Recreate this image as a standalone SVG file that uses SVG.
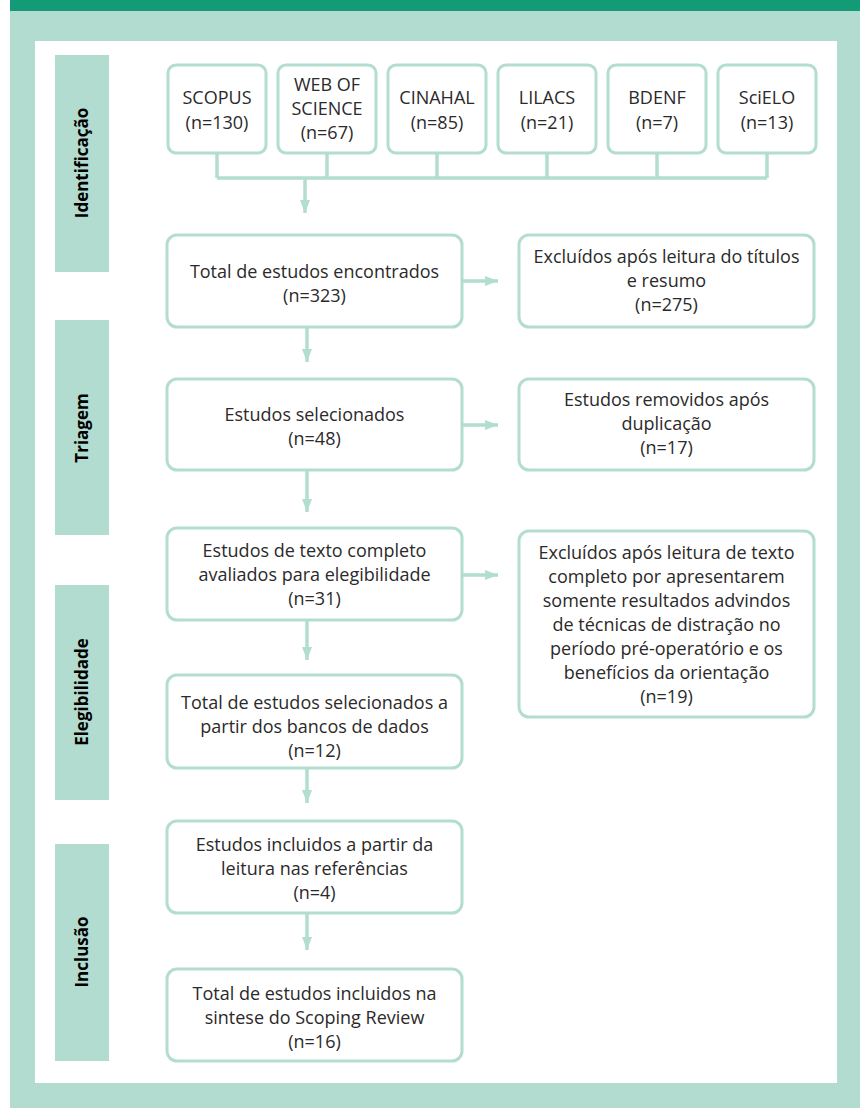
<svg xmlns="http://www.w3.org/2000/svg" width="860" height="1108" viewBox="0 0 860 1108">
<defs>
<style>
.box{fill:#fff;stroke:#b2ddd0;stroke-width:3}
.t{font-family:"Open Sans","Noto Sans",sans-serif;font-size:18px;fill:#2b2a2a;text-anchor:middle}
.side{font-family:"Open Sans","Noto Sans",sans-serif;font-size:17px;font-weight:bold;fill:#000;text-anchor:middle}
.band{fill:#b2dccf}
.ln{fill:none;stroke:#b2ddd0;stroke-width:3.5}
</style>
<marker id="ah" viewBox="0 0 13 10" refX="13" refY="5" markerWidth="3.7" markerHeight="2.85" orient="auto" markerUnits="strokeWidth">
<path d="M0,0 L13,5 L0,10 z" fill="#b2ddd0"/>
</marker>
</defs>
<rect x="0" y="0" width="860" height="1108" fill="#fff"/>
<rect x="10" y="0" width="850" height="1108" fill="#b2dccf"/>
<rect x="10" y="0" width="850" height="11" fill="#139b77"/>
<rect x="35" y="41" width="802" height="1042" fill="#fff"/>

<g id="side-labels">
<g id="lbl-identificacao"><rect class="band" x="55" y="55" width="54" height="217"/><text class="side" transform="translate(88,163) rotate(-90)">Identificação</text></g>
<g id="lbl-triagem"><rect class="band" x="55" y="320" width="54" height="215"/><text class="side" transform="translate(88,428) rotate(-90)">Triagem</text></g>
<g id="lbl-elegibilidade"><rect class="band" x="55" y="585" width="54" height="215"/><text class="side" transform="translate(88,692) rotate(-90)">Elegibilidade</text></g>
<g id="lbl-inclusao"><rect class="band" x="55" y="844" width="54" height="217"/><text class="side" transform="translate(88,952) rotate(-90)">Inclusão</text></g>
</g>

<g id="connectors">
<path class="ln" d="M217,153 V178 M327,153 V178 M437,153 V178 M547,153 V178 M657,153 V178 M767,153 V178 M217,178 H767"/>
<line class="ln" x1="305" y1="178" x2="305" y2="213" marker-end="url(#ah)"/>
<line class="ln" x1="307" y1="327" x2="307" y2="362" marker-end="url(#ah)"/>
<line class="ln" x1="307" y1="470" x2="307" y2="512" marker-end="url(#ah)"/>
<line class="ln" x1="307" y1="620" x2="307" y2="660" marker-end="url(#ah)"/>
<line class="ln" x1="307" y1="768" x2="307" y2="803" marker-end="url(#ah)"/>
<line class="ln" x1="307" y1="913" x2="307" y2="950" marker-end="url(#ah)"/>
<line class="ln" x1="462" y1="281" x2="498" y2="281" marker-end="url(#ah)"/>
<line class="ln" x1="462" y1="425" x2="498" y2="425" marker-end="url(#ah)"/>
<line class="ln" x1="462" y1="575" x2="498" y2="575" marker-end="url(#ah)"/>
</g>

<g id="scopus"><rect class="box" x="168" y="65" width="98" height="88" rx="8"/><text class="t" x="217" y="104">SCOPUS</text><text class="t" x="217" y="129">(n=130)</text></g>
<g id="wos"><rect class="box" x="278" y="65" width="98" height="88" rx="8"/><text class="t" x="327" y="91">WEB OF</text><text class="t" x="327" y="115">SCIENCE</text><text class="t" x="327" y="139">(n=67)</text></g>
<g id="cinahal"><rect class="box" x="388" y="65" width="98" height="88" rx="8"/><text class="t" x="437" y="104">CINAHAL</text><text class="t" x="437" y="129">(n=85)</text></g>
<g id="lilacs"><rect class="box" x="498" y="65" width="98" height="88" rx="8"/><text class="t" x="547" y="104">LILACS</text><text class="t" x="547" y="129">(n=21)</text></g>
<g id="bdenf"><rect class="box" x="608" y="65" width="98" height="88" rx="8"/><text class="t" x="657" y="104">BDENF</text><text class="t" x="657" y="129">(n=7)</text></g>
<g id="scielo"><rect class="box" x="718" y="65" width="98" height="88" rx="8"/><text class="t" x="767" y="104">SciELO</text><text class="t" x="767" y="129">(n=13)</text></g>

<g id="total-encontrados"><rect class="box" x="167" y="235" width="295" height="92" rx="10"/><text class="t" x="314.5" y="278">Total de estudos encontrados</text><text class="t" x="314.5" y="302">(n=323)</text></g>
<g id="excluidos-titulos"><rect class="box" x="519" y="235" width="295" height="92" rx="10"/><text class="t" x="666.5" y="263">Excluídos após leitura do títulos</text><text class="t" x="666.5" y="287">e resumo</text><text class="t" x="666.5" y="311">(n=275)</text></g>

<g id="selecionados"><rect class="box" x="167" y="379" width="295" height="91" rx="10"/><text class="t" x="314.5" y="421">Estudos selecionados</text><text class="t" x="314.5" y="445">(n=48)</text></g>
<g id="removidos"><rect class="box" x="519" y="379" width="295" height="91" rx="10"/><text class="t" x="666.5" y="406">Estudos removidos após</text><text class="t" x="666.5" y="430">duplicação</text><text class="t" x="666.5" y="454">(n=17)</text></g>

<g id="texto-completo"><rect class="box" x="167" y="528" width="295" height="92" rx="10"/><text class="t" x="314.5" y="557">Estudos de texto completo</text><text class="t" x="314.5" y="581">avaliados para elegibilidade</text><text class="t" x="314.5" y="605">(n=31)</text></g>
<g id="excluidos-texto"><rect class="box" x="519" y="531" width="295" height="186" rx="10"/>
<text class="t" x="666.5" y="559">Excluídos após leitura de texto</text>
<text class="t" x="666.5" y="583">completo por apresentarem</text>
<text class="t" x="666.5" y="607">somente resultados advindos</text>
<text class="t" x="666.5" y="631">de técnicas de distração no</text>
<text class="t" x="666.5" y="655">período pré-operatório e os</text>
<text class="t" x="666.5" y="679">benefícios da orientação</text>
<text class="t" x="666.5" y="703">(n=19)</text></g>

<g id="total-selecionados"><rect class="box" x="167" y="675" width="295" height="93" rx="10"/><text class="t" x="314.5" y="709">Total de estudos selecionados a</text><text class="t" x="314.5" y="733">partir dos bancos de dados</text><text class="t" x="314.5" y="757">(n=12)</text></g>

<g id="incluidos-referencias"><rect class="box" x="167" y="821" width="295" height="92" rx="10"/><text class="t" x="314.5" y="851">Estudos incluidos a partir da</text><text class="t" x="314.5" y="875">leitura nas referências</text><text class="t" x="314.5" y="899">(n=4)</text></g>

<g id="total-incluidos"><rect class="box" x="167" y="969" width="295" height="92" rx="10"/><text class="t" x="314.5" y="1000">Total de estudos incluidos na</text><text class="t" x="314.5" y="1024">sintese do Scoping Review</text><text class="t" x="314.5" y="1048">(n=16)</text></g>
</svg>
